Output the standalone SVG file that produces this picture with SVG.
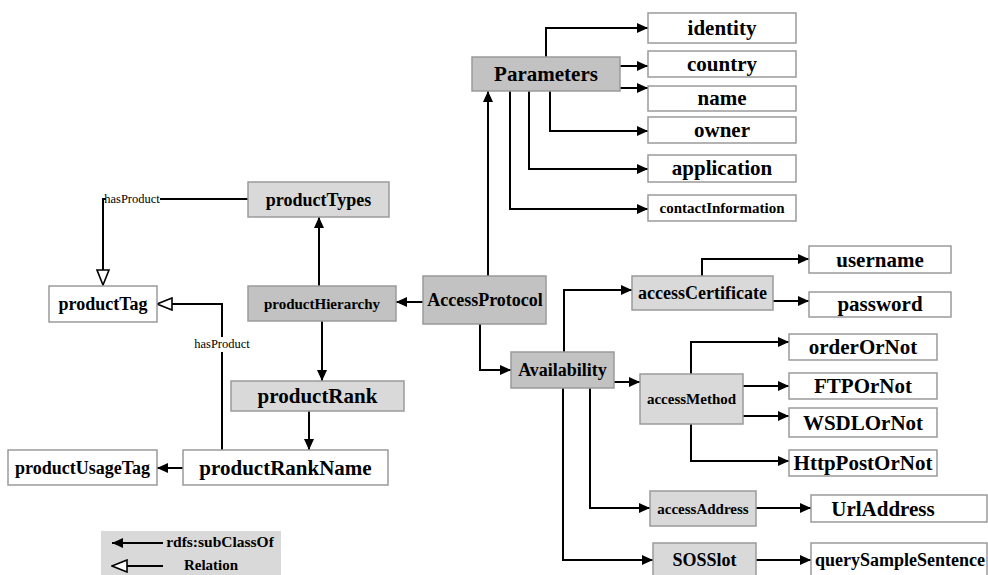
<svg xmlns="http://www.w3.org/2000/svg" width="988" height="575" viewBox="0 0 988 575">
<style>
text{font-family:"Liberation Serif","Times New Roman",serif;font-weight:bold;text-anchor:middle;fill:#000}
.n rect{stroke:#9a9a9a;stroke-width:1.5}
.w rect{fill:#fff}
.l rect{fill:#d9d9d9}
.d rect{fill:#c2c2c2}
.s21{font-size:21px}
.s18{font-size:18px}
.s15{font-size:15px}
.lbl{font-weight:normal;font-size:12.5px}
#connectors path{fill:none;stroke:#000;stroke-width:2}
.a{marker-end:url(#fa)}
.h{marker-end:url(#ha)}
</style>
<defs>
<marker id="fa" markerUnits="userSpaceOnUse" viewBox="0 0 11 10" refX="11" refY="5" markerWidth="11" markerHeight="10" orient="auto">
<path d="M0,0 L11,5 L0,10 z" fill="#000"/>
</marker>
<marker id="ha" markerUnits="userSpaceOnUse" viewBox="-1 -1 17 14" refX="0" refY="6" markerWidth="17" markerHeight="14" orient="auto">
<path d="M0,0 L15,6 L0,12 z" fill="#fff" stroke="#000" stroke-width="1.6"/>
</marker>
</defs>
<rect width="988" height="575" fill="#fff"/>

<g id="connectors">
<path class="a" d="M488,276 V91"/>
<path class="a" d="M546,57 V28 H648"/>
<path class="a" d="M620,66 H648"/>
<path class="a" d="M620,88 H648"/>
<path class="a" d="M550,91 V131 H648"/>
<path class="a" d="M529,91 V169 H648"/>
<path class="a" d="M510,91 V209 H648"/>
<path class="a" d="M423,302 H396"/>
<path class="a" d="M319,286 V217"/>
<path class="a" d="M322,321 V381"/>
<path class="a" d="M309,411 V450"/>
<path class="a" d="M183,468 H157"/>
<path d="M248,199 H160"/>
<path class="h" d="M106,199 H103 V270"/>
<path d="M222,450 V352"/>
<path class="h" d="M222,337 V304 H172"/>
<path class="a" d="M480,324 V370 H511"/>
<path class="a" d="M564,352 V290 H632"/>
<path class="a" d="M614,382 H640"/>
<path class="a" d="M590,388 V508 H650"/>
<path class="a" d="M563,388 V560 H653"/>
<path class="a" d="M702,276 V259 H809"/>
<path class="a" d="M773,301 H809"/>
<path class="a" d="M691,374 V342 H789"/>
<path class="a" d="M743,386 H789"/>
<path class="a" d="M743,416 H789"/>
<path class="a" d="M691,424 V461 H789"/>
<path class="a" d="M756,508 H811"/>
<path class="a" d="M756,560 H811"/>
<text class="lbl" x="132" y="203">hasProduct</text>
<text class="lbl" x="222" y="348">hasProduct</text>
</g>

<g id="identity" class="n w"><rect x="648" y="13" width="148" height="30"/><text class="s21" x="722" y="35">identity</text></g>
<g id="country" class="n w"><rect x="648" y="51" width="148" height="26"/><text class="s21" x="722" y="71">country</text></g>
<g id="name" class="n w"><rect x="648" y="86" width="148" height="25"/><text class="s21" x="722" y="105">name</text></g>
<g id="owner" class="n w"><rect x="648" y="117" width="148" height="26"/><text class="s21" x="722" y="137">owner</text></g>
<g id="application" class="n w"><rect x="648" y="155" width="148" height="27"/><text class="s21" x="722" y="175">application</text></g>
<g id="contactInformation" class="n w"><rect x="648" y="195" width="148" height="26"/><text class="s15" x="722" y="213">contactInformation</text></g>
<g id="Parameters" class="n d"><rect x="472" y="57" width="148" height="34"/><text class="s21" x="546" y="81">Parameters</text></g>
<g id="productTypes" class="n l"><rect x="248" y="182" width="141" height="35"/><text class="s18" x="318.5" y="205.5">productTypes</text></g>
<g id="productTag" class="n w"><rect x="49" y="286" width="108" height="36"/><text class="s18" x="103" y="310">productTag</text></g>
<g id="productHierarchy" class="n d"><rect x="248" y="286" width="148" height="35"/><text class="s15" x="322" y="308.5">productHierarchy</text></g>
<g id="AccessProtocol" class="n d"><rect x="423" y="276" width="123" height="48"/><text class="s18" x="485" y="306">AccessProtocol</text></g>
<g id="productRank" class="n l"><rect x="231" y="381" width="173" height="30"/><text class="s21" x="317.5" y="403">productRank</text></g>
<g id="productRankName" class="n w"><rect x="183" y="450" width="205" height="35"/><text class="s21" x="285.5" y="474.5">productRankName</text></g>
<g id="productUsageTag" class="n w"><rect x="8" y="450" width="149" height="35"/><text class="s18" x="82.5" y="474">productUsageTag</text></g>
<g id="Availability" class="n d"><rect x="511" y="352" width="103" height="36"/><text class="s18" x="562.5" y="376">Availability</text></g>
<g id="accessCertificate" class="n l"><rect x="632" y="276" width="141" height="34"/><text class="s18" x="702.5" y="299">accessCertificate</text></g>
<g id="username" class="n w"><rect x="809" y="246" width="142" height="27"/><text class="s21" x="880" y="266.5">username</text></g>
<g id="password" class="n w"><rect x="809" y="292" width="142" height="25"/><text class="s21" x="880" y="311">password</text></g>
<g id="accessMethod" class="n l"><rect x="640" y="374" width="103" height="50"/><text class="s15" x="691.5" y="404">accessMethod</text></g>
<g id="orderOrNot" class="n w"><rect x="789" y="334" width="148" height="26"/><text class="s21" x="863" y="354">orderOrNot</text></g>
<g id="FTPOrNot" class="n w"><rect x="789" y="373" width="148" height="26"/><text class="s21" x="863" y="393">FTPOrNot</text></g>
<g id="WSDLOrNot" class="n w"><rect x="789" y="408" width="148" height="29"/><text class="s21" x="863" y="430">WSDLOrNot</text></g>
<g id="HttpPostOrNot" class="n w"><rect x="789" y="450" width="148" height="26"/><text class="s21" x="863" y="470">HttpPostOrNot</text></g>
<g id="accessAddress" class="n l"><rect x="650" y="491" width="106" height="35"/><text class="s15" x="703" y="513.5">accessAddress</text></g>
<g id="UrlAddress" class="n w"><rect x="811" y="495" width="176" height="27"/><text class="s21" x="883" y="515.5">UrlAddress</text></g>
<g id="SOSSlot" class="n l"><rect x="653" y="543" width="103" height="36"/><text class="s18" x="704.5" y="566">SOSSlot</text></g>
<g id="querySampleSentence" class="n w"><rect x="811" y="543" width="176" height="36"/><text class="s18" x="900" y="566">querySampleSentence</text></g>

<g id="legend">
<rect x="101" y="531" width="180" height="44" fill="#d9d9d9"/>
<path d="M163,543 H112" fill="none" stroke="#000" stroke-width="2" marker-end="url(#fa)"/>
<path d="M163,566 H127" fill="none" stroke="#000" stroke-width="2" marker-end="url(#ha)"/>
<text x="220" y="547" style="font-size:15.5px">rdfs:subClassOf</text>
<text x="211" y="570" style="font-size:15px">Relation</text>
</g>
</svg>
